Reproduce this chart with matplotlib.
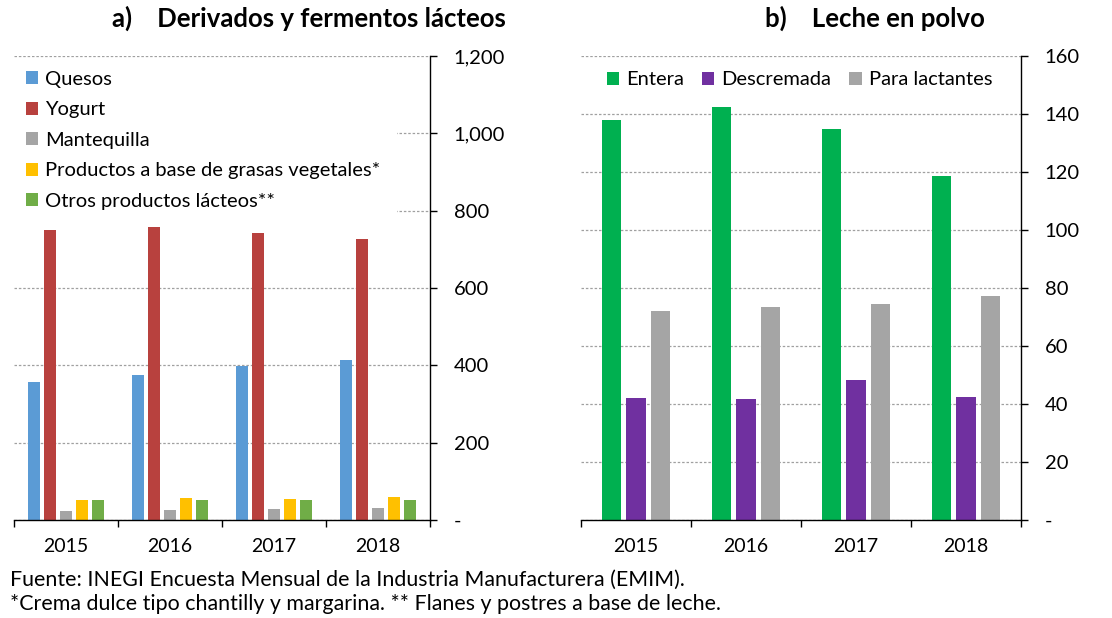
import numpy as np
import matplotlib
matplotlib.use('Agg')
import matplotlib.pyplot as plt
from matplotlib.ticker import FuncFormatter
from matplotlib.patches import Rectangle

plt.rcParams['font.family'] = ['Lato', 'DejaVu Sans']

years = ['2015', '2016', '2017', '2018']

# a) derivados y fermentos lacteos
quesos = [358, 375, 399, 415]
yogurt = [750, 758, 741, 727]
mantequilla = [24, 26, 28, 32]
grasas_veg = [52, 58, 54, 59]
otros = [52, 51, 51, 51]
names_a = ['Quesos', 'Yogurt', 'Mantequilla',
           'Productos a base de grasas vegetales*', 'Otros productos lácteos**']
colors_a = ['#5B9BD5', '#B8413E', '#A5A5A5', '#FFC000', '#70AD47']

# b) leche en polvo
entera = [138, 142.3, 134.8, 118.7]
descremada = [42.0, 41.7, 48.3, 42.5]
lactantes = [72.1, 73.3, 74.4, 77.2]
names_b = ['Entera', 'Descremada', 'Para lactantes']
colors_b = ['#00B050', '#7030A0', '#A5A5A5']

W, H = 1112, 618
fig = plt.figure(figsize=(W/100, H/100), dpi=100)
ax1 = fig.add_axes([14/W, 1-520/H, 416/W, 464/H])
ax2 = fig.add_axes([581/W, 1-520/H, 440/W, 464/H])

def fmt(v, pos):
  if v == 0:
    return '-'
  return '{:,.0f}'.format(v)

def style(ax, ymax, step):
  x = np.arange(len(years))
  ax.set_xlim(-0.5, len(years)-0.5)
  ax.set_ylim(0, ymax)
  ax.set_yticks(np.arange(0, ymax+1, step))
  ax.yaxis.set_major_formatter(FuncFormatter(fmt))
  ax.yaxis.tick_right()
  ax.tick_params(axis='y', direction='out', length=5, width=1, pad=12, labelsize=14.5, colors='black')
  ax.set_xticks(np.arange(-0.5, len(years)), minor=False)
  ax.set_xticklabels([])
  ax.set_xticks(x, minor=True)
  ax.set_xticklabels(years, minor=True, fontsize=14)
  ax.tick_params(axis='x', which='major', direction='out', length=5, width=1)
  ax.tick_params(axis='x', which='minor', length=0, pad=13)
  for s in ['top', 'left']:
    ax.spines[s].set_visible(False)
  ax.spines['right'].set_linewidth(1)
  ax.spines['bottom'].set_linewidth(1)
  ax.yaxis.grid(True, linestyle=(0, (2, 1.5)), color='#A0A0A0', linewidth=0.9)
  ax.set_axisbelow(True)

# left chart
x = np.arange(len(years))
series_a = [quesos, yogurt, mantequilla, grasas_veg, otros]
slot, bw = 0.154, 0.122
for i, (vals, nm, c) in enumerate(zip(series_a, names_a, colors_a)):
  ax1.bar(x + (i-2)*slot, vals, width=bw, color=c, label=nm)
style(ax1, 1200, 200)
# white box behind the legend hides the grid there
ax1.add_patch(Rectangle((-0.5, 780), 3.68, 400, facecolor='white', edgecolor='none', zorder=0.8))
ax1.legend(loc='upper left', bbox_to_anchor=(0.0, 0.994), fontsize=14.5,
           frameon=False, handlelength=0.6, handleheight=0.6, handletextpad=0.35,
           labelspacing=0.67, borderpad=0.3, borderaxespad=0.3)

# right chart
series_b = [entera, descremada, lactantes]
slot, bw = 0.223, 0.18
for i, (vals, nm, c) in enumerate(zip(series_b, names_b, colors_b)):
  ax2.bar(x + (i-1)*slot, vals, width=bw, color=c, label=nm)
style(ax2, 160, 20)
ax2.legend(loc='upper center', bbox_to_anchor=(0.497, 1.006), ncol=3, fontsize=14.5,
           frameon=False, handlelength=0.6, handleheight=0.6, handletextpad=0.35,
           columnspacing=0.9)

fig.text(309/W, 1-18/H, 'a)    Derivados y fermentos lácteos', ha='center', va='center',
         fontsize=18.5, fontweight='bold')
fig.text(875/W, 1-18/H, 'b)    Leche en polvo', ha='center', va='center',
         fontsize=18.5, fontweight='bold')

fig.text(10/W, 1-580/H, 'Fuente: INEGI Encuesta Mensual de la Industria Manufacturera (EMIM).',
         ha='left', va='center', fontsize=15.4)
fig.text(10/W, 1-604/H, '*Crema dulce tipo chantilly y margarina. ** Flanes y postres a base de leche.',
         ha='left', va='center', fontsize=15.4)

fig.savefig('out.png', dpi=100)
